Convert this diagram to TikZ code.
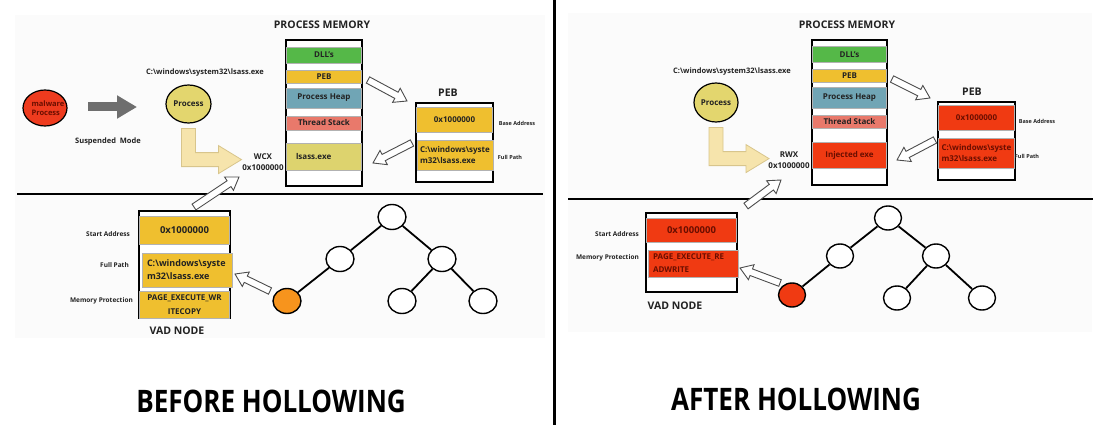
\documentclass[tikz,border=0pt]{standalone}
\usepackage{fontspec}
\setmainfont{Open Sans}
\newfontfamily\titlefont[FakeStretch=0.84]{Open Sans}
\usetikzlibrary{calc,arrows.meta,shapes.geometric}
\definecolor{cyel}{HTML}{EFBF2F}
\definecolor{cgreen}{HTML}{55B848}
\definecolor{cblue}{HTML}{70A5B5}
\definecolor{csalmon}{HTML}{E9796B}
\definecolor{ckhaki}{HTML}{DDD36E}
\definecolor{cproc}{HTML}{E3D66E}
\definecolor{cred}{HTML}{F03A12}
\definecolor{cmal}{HTML}{EE3B1E}
\definecolor{corange}{HTML}{F7941D}
\definecolor{cbentf}{HTML}{F6E4AC}
\definecolor{cbentd}{HTML}{D8C58C}
\definecolor{cgrayarr}{HTML}{6E6E6E}
\definecolor{ctxt}{HTML}{222222}
\definecolor{credtxt}{HTML}{6A0E00}
\definecolor{cpanel}{HTML}{FBFBFB}
\newcommand\harrow[2]{%
  \coordinate (hN) at ($(#2)!12pt!(#1)$);
  \draw[hollow] ($(#1)!3.5pt!90:(#2)$) -- ($(hN)!3.5pt!90:(#2)$) -- ($(hN)!8pt!90:(#2)$)
    -- (#2) -- ($(hN)!8pt!-90:(#2)$) -- ($(hN)!3.5pt!-90:(#2)$) -- ($(#1)!3.5pt!-90:(#2)$) -- cycle;}
\newcommand\bentarrow[1]{%
  \draw[bent, shift={($(#1.south)+(0,5)$)}] (-7,0) -- (7,0) -- (7,24) -- (30,24) -- (30,17)
    -- (53,31) -- (30,45) -- (30,38) -- (-7,38) -- cycle;}
\begin{document}
\begin{tikzpicture}[x=1pt,y=-1pt,
  every node/.append style={text=ctxt},
  txt8/.style={font=\bfseries\fontsize{8}{11.5}\selectfont, inner sep=0},
  small/.style={font=\bfseries\fontsize{7.5}{9}\selectfont, inner sep=0},
  tiny/.style={font=\bfseries\fontsize{5.5}{6.5}\selectfont, inner sep=0},
  vlab/.style={font=\bfseries\fontsize{6.5}{7.5}\selectfont, inner sep=0, anchor=east},
  head/.style={font=\bfseries\fontsize{10.5}{12}\selectfont, inner sep=0},
  title/.style={font=\titlefont\bfseries\fontsize{31}{36}\selectfont, text=black, inner sep=0},
  ell/.style={ellipse, draw=black, line width=1.2pt, inner sep=0, font=\bfseries\fontsize{8}{10}\selectfont},
  box/.style={draw=black, line width=1.3pt, fill=white, inner sep=0},
  memrow/.style={draw=black!30, line width=0.4pt, inner sep=0, font=\bfseries\fontsize{8}{11.5}\selectfont},
  treenode/.style={ellipse, draw=black, line width=1.4pt, fill=white, minimum width=28, minimum height=25, inner sep=0},
  treeedge/.style={line width=1.8pt},
  hollow/.style={draw=black!70, fill=white, line width=0.9pt, line join=miter},
  bent/.style={draw=cbentd, fill=cbentf, line width=0.8pt},
  grayarr/.style={cgrayarr, line width=9pt, -{Triangle[width=22pt,length=20pt]}},
  sepline/.style={line width=2.4pt}
]
\useasboundingbox (0,0) rectangle (1097,425);
% panels and dividers
\fill[cpanel] (15,15) rectangle (545,338);
\fill[cpanel] (568,13) rectangle (1092,332);
\draw[line width=3pt] (554,0) -- (554,425);
\coordinate (hl1) at (17,194); \coordinate (hl2) at (543,194);
\draw[sepline] (hl1) -- (hl2);
\coordinate (hr1) at (568,199); \coordinate (hr2) at (1093,199);
\draw[sepline] (hr1) -- (hr2);

%%%%%%%%%%%%%%%% LEFT: BEFORE
\node[ell, fill=cmal, minimum width=44, minimum height=36] (mal) at (45,108) {};
\node[small, text=credtxt, align=left] (malt) at (48,108) {malware\\Process};
\coordinate (gaS) at (88,107); \coordinate (gaE) at (137,107);
\draw[grayarr] (gaS) -- (gaE);
\node[small] (suspL) at (108,142) {Suspended\ \ Mode};
\node[small] (pathL) at (205,73) {C:\textbackslash windows\textbackslash system32\textbackslash lsass.exe};
\node[ell, fill=cproc, minimum width=45, minimum height=38] (procL) at (188.5,104) {Process};
\bentarrow{procL}
\node[txt8, align=center] (wcx) at (263,162) {WCX\\0x1000000};

% process memory
\node[head] (pmtL) at (322,25) {PROCESS MEMORY};
\node[box, minimum width=76, minimum height=146] (pmL) at (324,113) {};
\node[memrow, fill=cgreen, minimum width=75, minimum height=16] (dllL) at (324,55) {DLL's};
\node[memrow, fill=cyel, minimum width=75, minimum height=13] (pebrL) at (324,76.5) {PEB};
\node[memrow, fill=cblue, minimum width=75, minimum height=20] (heapL) at (324,98) {Process Heap};
\node[memrow, fill=csalmon, minimum width=75, minimum height=14] (thrL) at (324,123) {Thread Stack};
\node[memrow, fill=ckhaki, minimum width=75, minimum height=27, text width=56, align=left] (exeL) at (324,156.5) {lsass.exe};

% PEB
\node[head] (pebtL) at (448,93) {PEB};
\node[box, minimum width=77, minimum height=79] (pebL) at (454.5,142.5) {};
\node[memrow, fill=cyel, minimum width=76, minimum height=25] (pebaL) at (454.5,119.5) {0x1000000};
\node[memrow, fill=cyel, minimum width=76, minimum height=30, text width=70, align=left] (pebpL) at (455,155) {C:\textbackslash windows\textbackslash syste\\m32\textbackslash lsass.exe};
\node[tiny] (baL) at (517,123) {Base Address};
\node[tiny] (fpL) at (510,157) {Full Path};

% hollow arrows
\coordinate (h1a) at (368,80); \coordinate (h1b) at (407,101);
\harrow{h1a}{h1b}
\coordinate (h2a) at (412,143); \coordinate (h2b) at (373,163);
\harrow{h2a}{h2b}
\coordinate (h3a) at (194,207); \coordinate (h3b) at (239,177);
\harrow{h3a}{h3b}

% VAD node
\node[box, minimum width=91, minimum height=107] (vadL) at (184.5,264.5) {};
\node[memrow, fill=cyel, minimum width=90, minimum height=28, font=\bfseries\fontsize{9.5}{12}\selectfont] (vsaL) at (184.5,230) {0x1000000};
\node[memrow, fill=cyel, minimum width=90, minimum height=34, text width=80, align=left, font=\bfseries\fontsize{9}{13}\selectfont] (vfpL) at (187,270) {C:\textbackslash windows\textbackslash syste\\m32\textbackslash lsass.exe};
\node[memrow, fill=cyel, minimum width=90, minimum height=27, align=center, font=\bfseries\fontsize{8}{14.5}\selectfont] (vmpL) at (184.5,304.5) {PAGE\_EXECUTE\_WR\\ITECOPY};
\node[vlab] (sal) at (130,234) {Start Address};
\node[vlab] (fpl2) at (129,265) {Full Path};
\node[vlab] (mpl) at (133,301) {Memory Protection};
\node[head] (vadtL) at (177,331) {VAD NODE};

% tree
\node[treenode] (tRL) at (392,217) {};
\node[treenode] (tLL) at (340,259) {};
\node[treenode] (tRRL) at (442,259) {};
\node[treenode, fill=corange] (tLLL) at (287,301) {};
\node[treenode] (tRLL) at (402,301) {};
\node[treenode] (tRRRL) at (483,301) {};
\draw[treeedge] (tRL) -- (tLL);
\draw[treeedge] (tRL) -- (tRRL);
\draw[treeedge] (tLL) -- (tLLL);
\draw[treeedge] (tRRL) -- (tRLL);
\draw[treeedge] (tRRL) -- (tRRRL);
\coordinate (h4a) at (270,291); \coordinate (h4b) at (235,274);
\harrow{h4a}{h4b}

\node[title] (titL) at (271,401) {BEFORE HOLLOWING};

%%%%%%%%%%%%%%%% RIGHT: AFTER
\node[small] (pathR) at (732,72) {C:\textbackslash windows\textbackslash system32\textbackslash lsass.exe};
\node[ell, fill=cproc, minimum width=44, minimum height=39] (procR) at (716,102.5) {Process};
\bentarrow{procR}
\node[txt8, align=center] (rwx) at (789,160) {RWX\\0x1000000};

\node[head] (pmtR) at (847,25) {PROCESS MEMORY};
\node[box, minimum width=75, minimum height=145] (pmR) at (849.5,112.5) {};
\node[memrow, fill=cgreen, minimum width=74, minimum height=16] (dllR) at (849.5,54.5) {DLL's};
\node[memrow, fill=cyel, minimum width=74, minimum height=13] (pebrR) at (849.5,75.5) {PEB};
\node[memrow, fill=cblue, minimum width=74, minimum height=21] (heapR) at (849.5,97.5) {Process Heap};
\node[memrow, fill=csalmon, minimum width=74, minimum height=13] (thrR) at (849.5,121.5) {Thread Stack};
\node[memrow, fill=cred, minimum width=74, minimum height=26, text=credtxt] (exeR) at (849.5,155) {Injected exe};

\node[head] (pebtR) at (972,92) {PEB};
\node[box, minimum width=77, minimum height=78] (pebR) at (976.5,141) {};
\node[memrow, fill=cred, minimum width=76, minimum height=25, text=credtxt] (pebaR) at (976.5,117.5) {0x1000000};
\node[memrow, fill=cred, minimum width=76, minimum height=30, text width=70, align=left, text=credtxt] (pebpR) at (976.5,153) {C:\textbackslash windows\textbackslash syste\\m32\textbackslash lsass.exe};
\node[tiny] (baR) at (1037,121) {Base Address};
\node[tiny] (fpR) at (1027,156) {Full Path};

\coordinate (h5a) at (892,79); \coordinate (h5b) at (930,98);
\harrow{h5a}{h5b}
\coordinate (h6a) at (935,140); \coordinate (h6b) at (897,160);
\harrow{h6a}{h6b}
\coordinate (h7a) at (746,206); \coordinate (h7b) at (781,180);
\harrow{h7a}{h7b}

\node[box, minimum width=91, minimum height=79] (vadR) at (691.5,252.5) {};
\node[memrow, fill=cred, minimum width=90, minimum height=24, text=credtxt, font=\bfseries\fontsize{9.5}{12}\selectfont] (vsaR) at (691.5,230) {0x1000000};
\node[memrow, fill=cred, minimum width=90, minimum height=27, text width=80, align=left, text=credtxt, font=\bfseries\fontsize{8}{13}\selectfont] (vmpR) at (693,263.5) {PAGE\_EXECUTE\_RE\\ADWRITE};
\node[vlab] (saR) at (639,234) {Start Address};
\node[vlab] (mpR) at (639,258) {Memory Protection};
\node[head] (vadtR) at (675,306) {VAD NODE};

\node[treenode, minimum width=27, minimum height=24] (uR) at (888,218) {};
\node[treenode, minimum width=27, minimum height=24] (uL) at (840,256) {};
\node[treenode, minimum width=27, minimum height=24] (uRR) at (936,256) {};
\node[treenode, minimum width=27, minimum height=24, fill=cred] (uLL) at (792,295) {};
\node[treenode, minimum width=27, minimum height=24] (uRLx) at (897,298) {};
\node[treenode, minimum width=27, minimum height=24] (uRRx) at (982,298) {};
\draw[treeedge] (uR) -- (uL);
\draw[treeedge] (uR) -- (uRR);
\draw[treeedge] (uL) -- (uLL);
\draw[treeedge] (uRR) -- (uRLx);
\draw[treeedge] (uRR) -- (uRRx);
\coordinate (h8a) at (780,283); \coordinate (h8b) at (740,268);
\harrow{h8a}{h8b}

\node[title] (titR) at (796,399) {AFTER HOLLOWING};
\end{tikzpicture}
\end{document}
